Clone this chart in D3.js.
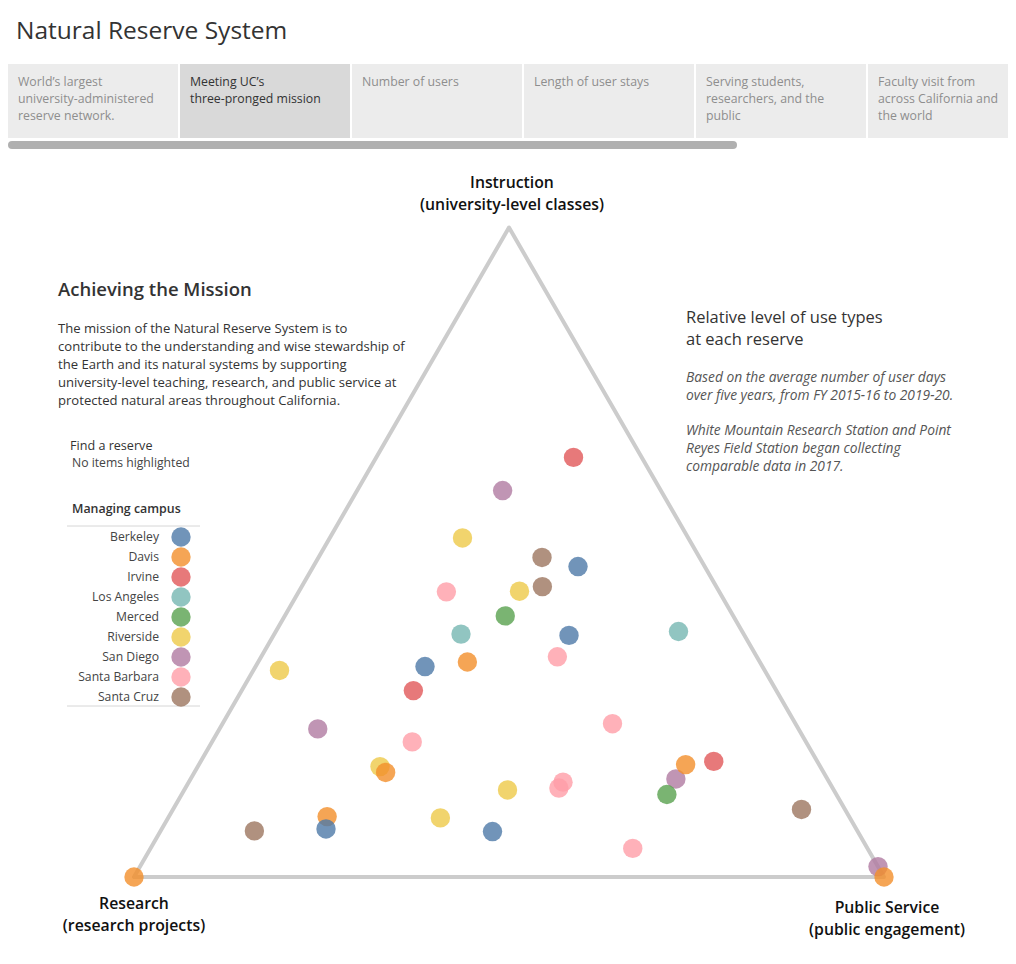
<!DOCTYPE html>
<html>
<head>
<meta charset="utf-8">
<script src="https://cdn.jsdelivr.net/npm/d3@7"></script>
<style>
  html, body { margin: 0; padding: 0; background: #fff; }
  svg { display: block; font-family: "Open Sans", "Noto Sans", sans-serif; }
</style>
</head>
<body>
<svg id="chart" width="1016" height="964"></svg>
<script>
// Managing campuses and their colours (Tableau 10)
const campuses = ['Berkeley', 'Davis', 'Irvine', 'Los Angeles', 'Merced', 'Riverside', 'San Diego', 'Santa Barbara', 'Santa Cruz']
const campusColors = ['#4e79a7', '#f28e2b', '#e15759', '#76b7b2', '#59a14f', '#edc948', '#b07aa1', '#ff9da7', '#9c755f']

// One entry per reserve: managing campus and share of user days (%) by use type
const reserveCampus = [
  'Riverside', 'Santa Barbara', 'Los Angeles', 'Davis', 'Berkeley', 'Irvine', 'Riverside', 'Irvine',
  'San Diego', 'Santa Cruz', 'Berkeley', 'Riverside', 'Santa Cruz', 'Merced', 'Berkeley', 'Santa Barbara',
  'Los Angeles', 'San Diego', 'Santa Barbara', 'Riverside', 'Davis', 'Davis', 'Berkeley', 'Santa Cruz',
  'Riverside', 'Davis', 'Santa Barbara', 'San Diego', 'Davis', 'Irvine', 'Merced', 'Santa Barbara',
  'Santa Barbara', 'Riverside', 'Berkeley', 'Santa Barbara', 'Santa Cruz', 'San Diego', 'Davis'
]
const instructionShare = [
  52.2, 43.9, 37.4, 33.1, 32.4, 28.7, 31.8, 64.6,
  59.5, 49.2, 47.8, 44.0, 44.7, 40.2, 37.2, 33.9,
  37.8, 22.8, 20.8, 17.0, 16.1, 9.3, 7.4, 7.1,
  9.1, 0.0, 23.6, 15.1, 17.3, 17.8, 12.7, 14.6,
  13.7, 13.4, 7.0, 4.4, 10.4, 1.6, 0.0
]
const researchShare = [
  30.1, 36.4, 37.7, 39.0, 45.0, 48.4, 64.7, 9.1,
  21.1, 21.0, 16.9, 26.6, 23.2, 30.4, 23.4, 26.6,
  8.5, 64.1, 52.5, 58.7, 58.4, 69.6, 70.7, 80.4,
  54.6, 100.0, 24.4, 20.2, 17.8, 13.8, 22.6, 35.5,
  36.5, 43.5, 48.7, 31.3, 5.8, 0.0, 0.0
]
const publicShare = [
  17.7, 19.7, 24.9, 27.9, 22.6, 22.9, 3.5, 26.3,
  19.4, 29.8, 35.3, 29.4, 32.1, 29.4, 39.4, 39.5,
  53.7, 13.1, 26.7, 24.3, 25.5, 21.1, 21.9, 12.5,
  36.3, 0.0, 52.0, 64.7, 64.9, 68.4, 64.7, 49.9,
  49.8, 43.1, 44.3, 64.3, 83.8, 98.4, 100.0
]

const tabLabels = [
  ['World\u2019s largest', 'university-administered', 'reserve network.'],
  ['Meeting UC\u2019s', 'three-pronged mission'],
  ['Number of users'],
  ['Length of user stays'],
  ['Serving students,', 'researchers, and the', 'public'],
  ['Faculty visit from', 'across California and', 'the world']
]
const activeTab = 1

const missionText = [
  'The mission of the Natural Reserve System is to',
  'contribute to the understanding and wise stewardship of',
  'the Earth and its natural systems by supporting',
  'university-level teaching, research, and public service at',
  'protected natural areas throughout California.'
]
const noteText = [
  ['Based on the average number of user days', 'over five years, from FY 2015-16 to 2019-20.'],
  ['White Mountain Research Station and Point', 'Reyes Field Station began collecting', 'comparable data in 2017.']
]

const svg = d3.select('#chart')
const color = d3.scaleOrdinal(campuses, campusColors)

// ── Header and story tabs ──
svg.append('text')
  .attr('x', 16).attr('y', 39)
  .attr('font-size', 24.5).attr('fill', '#333')
  .text('Natural Reserve System')

// tabs sit on a 172px step; the last one is cut off by the window edge
const tabX = d3.scaleLinear().domain([0, 1]).range([8, 180])
const tab = svg.append('g').selectAll('g')
  .data(tabLabels)
  .join('g')
  .attr('transform', (d, i) => `translate(${tabX(i)},64)`)

tab.append('rect')
  .attr('width', (d, i) => Math.min(170, 1008 - tabX(i)))
  .attr('height', 74)
  .attr('fill', (d, i) => i === activeTab ? '#d9d9d9' : '#ececec')

tab.append('text')
  .attr('font-size', 12.3)
  .attr('fill', (d, i) => i === activeTab ? '#333' : '#8e8e8e')
  .selectAll('tspan')
  .data(d => d)
  .join('tspan')
  .attr('x', 10)
  .attr('y', (d, j) => 22 + j * 17)
  .text(d => d)

svg.append('rect')
  .attr('x', 8).attr('y', 141).attr('width', 729).attr('height', 8)
  .attr('rx', 4).attr('fill', '#b0b0b0')

// ── Ternary plot ──
// Unit triangle: research at (0,0), public service at (1,0), instruction at (0.5, √3/2)
const h = Math.sqrt(3) / 2
const x = d3.scaleLinear().domain([0, 1]).range([134, 884])
const y = d3.scaleLinear().domain([0, h]).range([877, 227.5])
const project = (i, p) => [x(p / 100 + i / 200), y(i / 100 * h)]

svg.append('path')
  .attr('d', d3.line()([project(0, 0), project(0, 100), project(100, 0)]) + 'Z')
  .attr('fill', 'none')
  .attr('stroke', '#cccccc')
  .attr('stroke-width', 4)
  .attr('stroke-linejoin', 'round')

const reserves = reserveCampus.map((c, k) => ({
  campus: c,
  instruction: instructionShare[k],
  research: researchShare[k],
  public: publicShare[k]
}))

svg.append('g').selectAll('circle')
  .data(reserves)
  .join('circle')
  .attr('cx', d => project(d.instruction, d.public)[0])
  .attr('cy', d => project(d.instruction, d.public)[1])
  .attr('r', 9.7)
  .attr('fill', d => color(d.campus))
  .attr('fill-opacity', 0.8)

// Vertex labels
const vertexLabels = [
  { lines: ['Instruction', '(university-level classes)'], at: [512, 188] },
  { lines: ['Research', '(research projects)'], at: [134, 909] },
  { lines: ['Public Service', '(public engagement)'], at: [887, 913] }
]
svg.append('g').selectAll('text')
  .data(vertexLabels)
  .join('text')
  .attr('text-anchor', 'middle')
  .attr('font-size', 15.8)
  .attr('font-weight', 600)
  .attr('fill', '#111')
  .selectAll('tspan')
  .data(d => d.lines.map((l, j) => ({ l, x: d.at[0], y: d.at[1] + j * 22 })))
  .join('tspan')
  .attr('x', d => d.x).attr('y', d => d.y)
  .text(d => d.l)

// ── Left text block ──
svg.append('text')
  .attr('x', 58).attr('y', 296)
  .attr('font-size', 18.5).attr('font-weight', 600).attr('fill', '#333')
  .text('Achieving the Mission')

svg.append('text')
  .attr('font-size', 13.1).attr('fill', '#333')
  .selectAll('tspan')
  .data(missionText)
  .join('tspan')
  .attr('x', 58)
  .attr('y', (d, j) => 333 + j * 18)
  .text(d => d)

svg.append('text').attr('x', 70).attr('y', 450)
  .attr('font-size', 12.6).attr('fill', '#333').text('Find a reserve')
svg.append('text').attr('x', 72).attr('y', 467)
  .attr('font-size', 12.2).attr('fill', '#444').text('No items highlighted')
svg.append('text').attr('x', 72).attr('y', 513)
  .attr('font-size', 12.4).attr('font-weight', 600).attr('fill', '#333').text('Managing campus')

// ── Legend ──
const ly = d3.scalePoint().domain(campuses).range([537, 697])
const legend = svg.append('g')
legend.selectAll('line')
  .data([526, 706])
  .join('line')
  .attr('x1', 67).attr('x2', 200)
  .attr('y1', d => d).attr('y2', d => d)
  .attr('stroke', '#d6d6d6')
const item = legend.selectAll('g')
  .data(campuses)
  .join('g')
  .attr('transform', d => `translate(0,${ly(d)})`)
item.append('text')
  .attr('x', 159).attr('dy', '0.35em')
  .attr('text-anchor', 'end')
  .attr('font-size', 12.2).attr('fill', '#444')
  .text(d => d)
item.append('circle')
  .attr('cx', 181).attr('r', 9.7)
  .attr('fill', d => color(d)).attr('fill-opacity', 0.8)

// ── Right text block ──
svg.append('text')
  .attr('font-size', 16.5).attr('fill', '#333')
  .selectAll('tspan')
  .data(['Relative level of use types', 'at each reserve'])
  .join('tspan')
  .attr('x', 686)
  .attr('y', (d, j) => 323 + j * 22)
  .text(d => d)

noteText.forEach((para, k) => {
  svg.append('text')
    .attr('font-size', 13.8).attr('font-style', 'italic').attr('fill', '#555')
    .selectAll('tspan')
    .data(para)
    .join('tspan')
    .attr('x', 686)
    .attr('y', (d, j) => (k === 0 ? 382 : 435) + j * 18)
    .text(d => d)
})
</script>
</body>
</html>
